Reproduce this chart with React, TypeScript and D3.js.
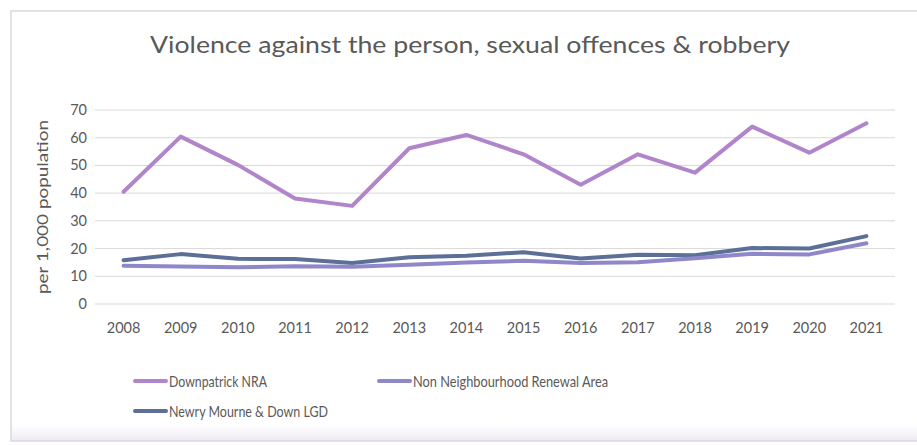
import React, { useEffect, useRef } from "react";
import * as d3 from "d3";

const years = ["2008", "2009", "2010", "2011", "2012", "2013", "2014", "2015", "2016", "2017", "2018", "2019", "2020", "2021"];
const downpatrick = [40.5, 60.4, 50.2, 38.1, 35.4, 56.2, 61, 54, 43, 54, 47.4, 64, 54.6, 65.2];
const nonNra = [13.8, 13.5, 13.3, 13.6, 13.4, 14.2, 15, 15.6, 14.8, 15.1, 16.5, 18.1, 17.9, 21.9];
const newry = [15.8, 18, 16.3, 16.2, 14.8, 16.9, 17.4, 18.7, 16.4, 17.8, 17.6, 20.2, 20, 24.5];
const yTicks = [0, 10, 20, 30, 40, 50, 60, 70];

const seriesNames = ["Downpatrick NRA", "Non Neighbourhood Renewal Area", "Newry Mourne & Down LGD"];
const seriesColors = ["#B085C9", "#8E88CB", "#5B6F97"];

export default function App() {
  const ref = useRef<SVGSVGElement>(null);

  useEffect(() => {
    const width = 917;
    const height = 445;
    const font = "Lato, 'Open Sans', sans-serif";
    const textColor = "#595959";

    const svg = d3.select(ref.current);
    svg.selectAll("*").remove();

    // chart frame
    const defs = svg.append("defs");
    const grad = defs.append("linearGradient").attr("id", "shade").attr("x1", 0).attr("x2", 0).attr("y1", 0).attr("y2", 1);
    grad.append("stop").attr("offset", "0%").attr("stop-color", "#ffffff");
    grad.append("stop").attr("offset", "100%").attr("stop-color", "#EEE8F6");
    svg.append("rect").attr("x", 0).attr("y", 0).attr("width", width).attr("height", height).attr("fill", "#ffffff");
    svg.append("rect").attr("x", 11).attr("y", 425).attr("width", width).attr("height", 16).attr("fill", "url(#shade)");
    svg.append("rect").attr("x", 11).attr("y", 11).attr("width", width + 10).attr("height", 430)
      .attr("fill", "none").attr("stroke", "#D9D9D9").attr("stroke-width", 1.5);

    const x = d3.scaleBand().domain(years).range([95, 895]);
    const y = d3.scaleLinear().domain([0, 70]).range([304, 110]);

    // title
    svg.append("text")
      .attr("x", 470).attr("y", 53)
      .attr("text-anchor", "middle")
      .attr("font-family", font).attr("font-size", 24).attr("fill", textColor)
      .attr("textLength", 640).attr("lengthAdjust", "spacingAndGlyphs")
      .text("Violence against the person, sexual offences & robbery");

    // gridlines
    svg.append("g").selectAll("line").data(yTicks).enter().append("line")
      .attr("x1", 95).attr("x2", 895)
      .attr("y1", (d) => y(d)).attr("y2", (d) => y(d))
      .attr("stroke", "#D9D9D9").attr("stroke-width", 1);

    // y tick labels
    svg.append("g").selectAll("text").data(yTicks).enter().append("text")
      .attr("x", 87).attr("y", (d) => y(d) + 5)
      .attr("text-anchor", "end")
      .attr("font-family", font).attr("font-size", 14.5).attr("fill", textColor)
      .text((d) => d);

    // x tick labels
    svg.append("g").selectAll("text").data(years).enter().append("text")
      .attr("x", (d) => (x(d) as number) + x.bandwidth() / 2).attr("y", 333)
      .attr("text-anchor", "middle")
      .attr("font-family", font).attr("font-size", 14.5).attr("fill", textColor)
      .text((d) => d);

    // y axis title
    svg.append("text")
      .attr("transform", "translate(48,207) rotate(-90)")
      .attr("text-anchor", "middle")
      .attr("font-family", font).attr("font-size", 16).attr("fill", textColor)
      .attr("textLength", 174).attr("lengthAdjust", "spacingAndGlyphs")
      .text("per 1,000 population");

    const line = d3.line<number>()
      .x((_, i) => (x(years[i]) as number) + x.bandwidth() / 2)
      .y((d) => y(d));

    const allSeries = [downpatrick, nonNra, newry];
    const drawOrder = [2, 1, 0];
    drawOrder.forEach((k) => {
      svg.append("path")
        .attr("d", line(allSeries[k]))
        .attr("fill", "none")
        .attr("stroke", seriesColors[k])
        .attr("stroke-width", 4)
        .attr("stroke-linecap", "round")
        .attr("stroke-linejoin", "round");
    });

    // legend
    const legendPos = [
      { lx: 135, ly: 381, tw: 98 },
      { lx: 379, ly: 381, tw: 195 },
      { lx: 135, ly: 411, tw: 159 },
    ];
    seriesNames.forEach((name, k) => {
      const p = legendPos[k];
      svg.append("line")
        .attr("x1", p.lx).attr("x2", p.lx + 31)
        .attr("y1", p.ly).attr("y2", p.ly)
        .attr("stroke", seriesColors[k]).attr("stroke-width", 4).attr("stroke-linecap", "round");
      svg.append("text")
        .attr("x", p.lx + 34).attr("y", p.ly + 5.5)
        .attr("font-family", font).attr("font-size", 15).attr("fill", textColor)
        .attr("textLength", p.tw).attr("lengthAdjust", "spacingAndGlyphs")
        .text(name);
    });
  }, []);

  return (
    <svg
      ref={ref}
      width={917}
      height={445}
      style={{ position: "absolute", left: 0, top: 0 }}
    />
  );
}
